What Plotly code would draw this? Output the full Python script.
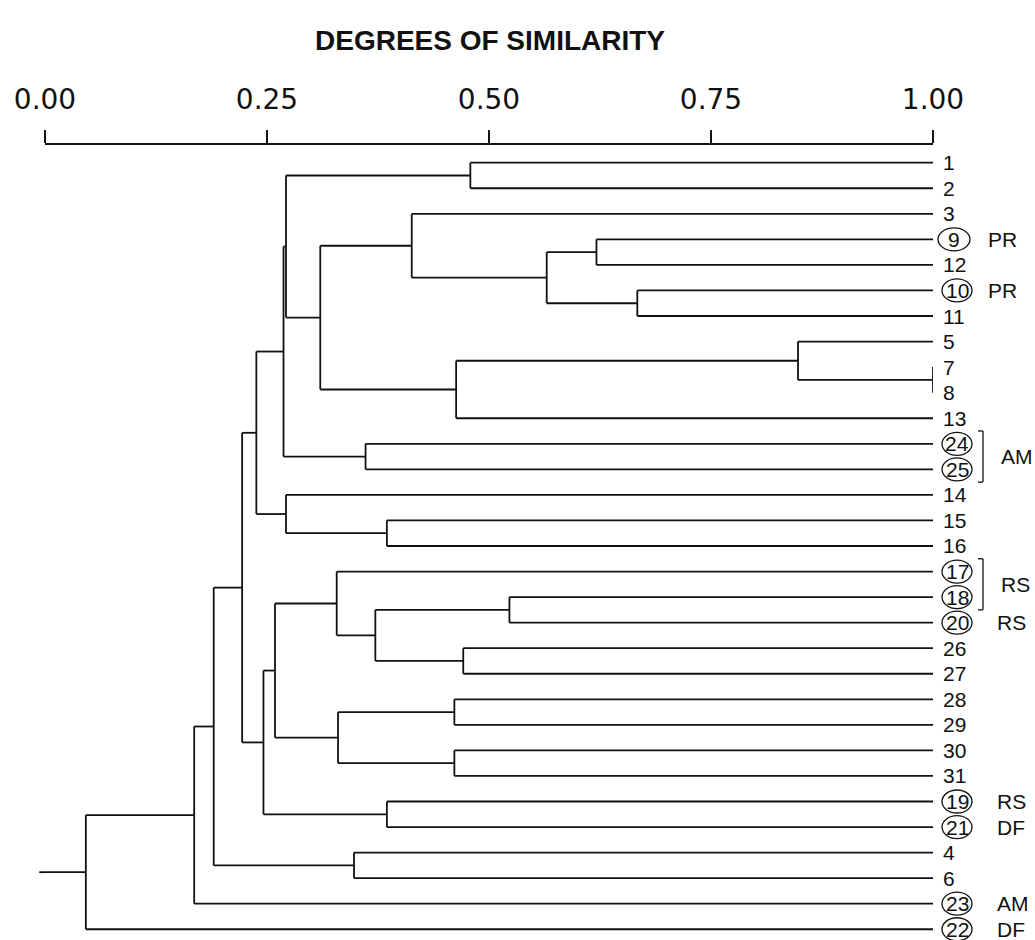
import plotly.graph_objects as go

# ---------------- data ----------------
leaf_order = ["1", "2", "3", "9", "12", "10", "11", "5", "7", "8", "13", "24", "25",
              "14", "15", "16", "17", "18", "20", "26", "27", "28", "29", "30", "31",
              "19", "21", "4", "6", "23", "22"]
circled = ["9", "10", "24", "25", "17", "18", "20", "19", "21", "23", "22"]

merge_names = ["n1_2", "n9_12", "n10_11", "n9_10", "n3", "n7_8", "n5", "n13", "n3_13",
               "nA", "n24_25", "nB", "n15_16", "n14", "nC", "n18_20", "n26_27", "n18_27",
               "n17", "n28_29", "n30_31", "n28_31", "n17_31", "n19_21", "n17_21", "nD",
               "n4_6", "nE", "nF", "nG"]
merge_left = ["1", "9", "10", "n9_12", "3", "7", "5", "n5", "n3",
              "n1_2", "24", "nA", "15", "14", "nB", "18", "26", "n18_20",
              "17", "28", "30", "n28_29", "n17", "19", "n17_31", "nC",
              "4", "nD", "nE", "nF"]
merge_right = ["2", "12", "11", "n10_11", "n9_10", "8", "n7_8", "13", "n13",
               "n3_13", "25", "n24_25", "16", "n15_16", "n14", "20", "27", "n26_27",
               "n18_27", "29", "31", "n30_31", "n28_31", "21", "n19_21", "n17_21",
               "6", "n4_6", "23", "22"]
merge_sim = [0.479, 0.621, 0.667, 0.565, 0.413, 1.000, 0.848, 0.463, 0.310,
             0.2714, 0.361, 0.2686, 0.385, 0.2714, 0.238, 0.523, 0.471, 0.372,
             0.3285, 0.461, 0.461, 0.330, 0.259, 0.385, 0.246, 0.222,
             0.348, 0.190, 0.168, 0.046]
root_stub = -0.0065

side_labels_leaf = ["9", "10", "20", "19", "21", "23", "22"]
side_labels_text = ["PR", "PR", "RS", "RS", "DF", "AM", "DF"]
bracket_from = ["24", "17"]
bracket_to = ["25", "18"]
bracket_text = ["AM", "RS"]

tick_vals = [0.0, 0.25, 0.5, 0.75, 1.0]
tick_text = ["0.00", "0.25", "0.50", "0.75", "1.00"]
title_text = "DEGREES OF SIMILARITY"

# ---------------- build dendrogram segments ----------------
pos = {lab: i for i, lab in enumerate(leaf_order)}
sim = {lab: 1.0 for lab in leaf_order}
xs, ys = [], []
for name, a, b, s in zip(merge_names, merge_left, merge_right, merge_sim):
    pa, pb = pos[a], pos[b]
    xs += [s, s, None]
    ys += [pa, pb, None]
    for c in (a, b):
        if sim[c] > s:
            xs += [s, sim[c], None]
            ys += [pos[c], pos[c], None]
    pos[name] = (pa + pb) / 2.0
    sim[name] = s
root = merge_names[-1]
xs += [sim[root], 0.0, None]
ys += [pos[root], pos[root], None]

LINE = "#111111"
LW = 1.8
fig = go.Figure()
fig.add_trace(go.Scatter(x=xs, y=ys, mode="lines",
                         line=dict(color=LINE, width=LW),
                         hoverinfo="skip", showlegend=False))

# plot area spans pixels 45..933 horizontally, so paper x == data x here
def px2x(p):
    return (p - 45.0) / 888.0

shapes = []
# small root stub extending just left of the axis origin (not clipped: paper x)
shapes.append(dict(type="line", xref="paper", yref="y", x0=root_stub, x1=0.0,
                   y0=pos[root], y1=pos[root], line=dict(color=LINE, width=LW)))

label_font = dict(family="Liberation Sans, Arial, sans-serif", size=21, color=LINE)
annotations = []
for lab in leaf_order:
    y = pos[lab]
    if lab in circled:
        cx = px2x(954 if len(lab) == 1 else 957)
        w = 16 if len(lab) == 1 else 15
        annotations.append(dict(x=cx, y=y, xref="paper", yref="y", text=lab, showarrow=False,
                                xanchor="center", yanchor="middle", font=label_font))
        shapes.append(dict(type="circle", xref="paper", yref="y", xsizemode="pixel",
                           ysizemode="pixel", xanchor=cx, yanchor=y, x0=-w, x1=w,
                           y0=-11.5, y1=11.5, line=dict(color=LINE, width=1.3)))
    else:
        annotations.append(dict(x=px2x(941), y=y, xref="paper", yref="y", text=lab,
                                showarrow=False, xanchor="left", yanchor="middle",
                                font=label_font))

for lab, txt in zip(side_labels_leaf, side_labels_text):
    xp = 986 if txt == "PR" else 995
    annotations.append(dict(x=px2x(xp), y=pos[lab], xref="paper", yref="y", text=txt,
                            showarrow=False, xanchor="left", yanchor="middle",
                            font=label_font))

for a, b, txt in zip(bracket_from, bracket_to, bracket_text):
    y0, y1 = pos[a] - 0.5, pos[b] + 0.5
    bx = px2x(983)
    tx = px2x(978)
    shapes.append(dict(type="line", xref="paper", yref="y", x0=bx, x1=bx, y0=y0, y1=y1,
                       line=dict(color=LINE, width=1.3)))
    for yy in (y0, y1):
        shapes.append(dict(type="line", xref="paper", yref="y", x0=tx, x1=bx, y0=yy, y1=yy,
                           line=dict(color=LINE, width=1.3)))
    annotations.append(dict(x=px2x(999), y=(pos[a] + pos[b]) / 2.0, xref="paper", yref="y",
                            text=txt, showarrow=False, xanchor="left", yanchor="middle",
                            font=label_font))

# ---------------- layout ----------------
fig.update_layout(
    width=1035, height=940,
    margin=dict(l=45, r=102, t=145, b=0, autoexpand=False),
    paper_bgcolor="white", plot_bgcolor="white",
    title=dict(text="<b>" + title_text + "</b>", xref="container", yref="container",
               x=490 / 1035, y=1 - 40 / 940, xanchor="center", yanchor="middle",
               font=dict(family="Liberation Sans, Arial, sans-serif", size=28, color=LINE)),
    xaxis=dict(side="top", range=[0, 1], autorange=False, showgrid=False, zeroline=False,
               showline=True, linecolor=LINE, linewidth=2.2,
               ticks="outside", ticklen=13, tickwidth=1.6, tickcolor=LINE,
               tickvals=tick_vals, ticktext=tick_text, ticklabelstandoff=10,
               tickfont=dict(family="DejaVu Sans, sans-serif", size=28, color=LINE),
               fixedrange=True),
    yaxis=dict(range=[30.42, -0.693], autorange=False, visible=False, fixedrange=True),
    annotations=annotations,
    shapes=shapes,
    showlegend=False,
)

fig.write_html("out.html")
